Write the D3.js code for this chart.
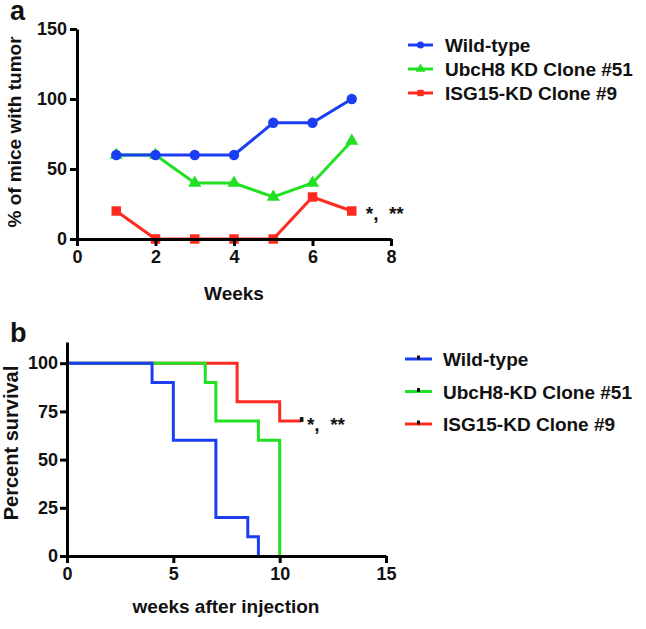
<!DOCTYPE html>
<html><head><meta charset="utf-8">
<script src="https://cdn.jsdelivr.net/npm/d3@7"></script>
<style>
body{margin:0;background:#fff;}
text{font-family:"Liberation Sans",Arial,sans-serif;font-weight:bold;fill:#111;}
</style></head>
<body><svg id="c" width="646" height="629"></svg>
<script>
// ---- Panel a data ----
const weeksA = [1,2,3,4,5,6,7];
const wildTypeA = [60,60,60,60,83,83,100];
const ubch8A = [60,60,40,40,30,40,70];
const isg15A = [20,0,0,0,0,30,20];
const seriesNamesA = ["Wild-type","UbcH8 KD Clone #51","ISG15-KD Clone #9"];
const xTicksA = [0,2,4,6,8];
const yTicksA = [0,50,100,150];
// ---- Panel b data (Kaplan–Meier steps) ----
const wtTimesB = [0,4,5,7,8.5,9];
const wtSurvB = [100,90,60,20,10,0];
const ubcTimesB = [0,6.5,7,9,10];
const ubcSurvB = [100,90,70,60,0];
const isgTimesB = [0,8,10,11];
const isgSurvB = [100,80,70,70];
const seriesNamesB = ["Wild-type","UbcH8-KD Clone #51","ISG15-KD Clone #9"];
const xTicksB = [0,5,10,15];
const yTicksB = [0,25,50,75,100];

const colors = ["#1c3ef2","#22e022","#ff2a1f"];
const svg = d3.select("#c");

function styleAxis(g){
  g.selectAll("path.domain").attr("stroke","#000").attr("stroke-width",3);
  g.selectAll(".tick line").attr("stroke","#000").attr("stroke-width",3);
  g.selectAll(".tick text").style("font-size","18px").style("font-family","Liberation Sans, Arial, sans-serif").style("font-weight","bold").attr("fill","#111");
}

// ================= Panel a =================
const xA = d3.scaleLinear().domain([0,8]).range([77,391]);
const yA = d3.scaleLinear().domain([0,150]).range([239,29]);

const lineA = d3.line().x((d,i)=>xA(weeksA[i])).y(d=>yA(d));
const dataA = [isg15A, ubch8A, wildTypeA];
const colA = [colors[2], colors[1], colors[0]];
const shapeA = [d3.symbolSquare, d3.symbolTriangle, d3.symbolCircle];
const sizeA = [90, 75, 85];

dataA.forEach((vals,k)=>{
  svg.append("path").attr("d",lineA(vals)).attr("fill","none")
    .attr("stroke",colA[k]).attr("stroke-width",3);
});
dataA.forEach((vals,k)=>{
  svg.append("g").selectAll("path").data(vals).join("path")
    .attr("d",d3.symbol().type(shapeA[k]).size(sizeA[k]))
    .attr("transform",(d,i)=>`translate(${xA(weeksA[i])},${yA(d)})`)
    .attr("fill",colA[k]);
});

const gxA = svg.append("g").attr("transform",`translate(0,${yA(0)})`)
  .call(d3.axisBottom(xA).tickValues(xTicksA).tickSize(7).tickPadding(4).tickSizeOuter(0));
styleAxis(gxA);
const gyA = svg.append("g").attr("transform",`translate(${xA(0)},0)`)
  .call(d3.axisLeft(yA).tickValues(yTicksA).tickSize(7).tickPadding(3).tickSizeOuter(0));
styleAxis(gyA);

svg.append("text").attr("x",10).attr("y",20).style("font-size","27px").text("a");
svg.append("text").attr("x",234).attr("y",300).attr("text-anchor","middle").style("font-size","19px").text("Weeks");
svg.append("text").attr("transform","translate(21,132) rotate(-90)").attr("text-anchor","middle")
  .style("font-size","19px").text("% of mice with tumor");
svg.append("text").attr("x",xA(weeksA[6])+14).attr("y",yA(isg15A[6])+9).style("font-size","19px")
  .attr("xml:space","preserve").text("*,  **");

// legend a
const legA = svg.append("g");
seriesNamesA.forEach((name,i)=>{
  const cy = 45 + i*24;
  legA.append("line").attr("x1",408).attr("x2",433).attr("y1",cy).attr("y2",cy)
    .attr("stroke",colors[i]).attr("stroke-width",3);
  const sh = [d3.symbolCircle,d3.symbolTriangle,d3.symbolSquare][i];
  legA.append("path").attr("d",d3.symbol().type(sh).size(40)).attr("transform",`translate(420.5,${cy})`).attr("fill",colors[i]);
  legA.append("text").attr("x",445).attr("y",cy+7).style("font-size","19px").text(name);
});

// ================= Panel b =================
const xB = d3.scaleLinear().domain([0,15]).range([67,386]);
const yB = d3.scaleLinear().domain([0,111]).range([556,342]);
const stepLine = d3.line().x(d=>xB(d[0])).y(d=>yB(d[1])).curve(d3.curveStepAfter);
const kmB = [
  d3.zip(isgTimesB, isgSurvB),
  d3.zip(ubcTimesB, ubcSurvB),
  d3.zip(wtTimesB, wtSurvB)
];
const colB = [colors[2], colors[1], colors[0]];
kmB.forEach((pts,k)=>{
  svg.append("path").attr("d",stepLine(pts)).attr("fill","none")
    .attr("stroke",colB[k]).attr("stroke-width",3);
});
// censor mark at end of ISG15 curve
const lastIsg = kmB[0][kmB[0].length-1];
svg.append("rect").attr("x",xB(lastIsg[0])-1).attr("y",yB(lastIsg[1])-4).attr("width",3.5).attr("height",5).attr("fill","#111");

const gxB = svg.append("g").attr("transform",`translate(0,${yB(0)})`)
  .call(d3.axisBottom(xB).tickValues(xTicksB).tickSize(7).tickPadding(4).tickSizeOuter(0));
styleAxis(gxB);
const gyB = svg.append("g").attr("transform",`translate(${xB(0)},0)`)
  .call(d3.axisLeft(yB).tickValues(yTicksB).tickSize(7).tickPadding(2).tickSizeOuter(0));
styleAxis(gyB);

svg.append("text").attr("x",10).attr("y",342).style("font-size","27px").text("b");
svg.append("text").attr("x",226).attr("y",613).attr("text-anchor","middle").style("font-size","19px").text("weeks after injection");
svg.append("text").attr("transform","translate(18,443) rotate(-90)").attr("text-anchor","middle")
  .style("font-size","20px").text("Percent survival");
svg.append("text").attr("x",xB(lastIsg[0])+6).attr("y",yB(lastIsg[1])+10).style("font-size","19px")
  .attr("xml:space","preserve").text("*,  **");

// legend b
const legB = svg.append("g");
seriesNamesB.forEach((name,i)=>{
  const cy = 359 + i*32.5;
  legB.append("line").attr("x1",405).attr("x2",432).attr("y1",cy).attr("y2",cy)
    .attr("stroke",colors[i]).attr("stroke-width",3);
  legB.append("rect").attr("x",417).attr("y",cy-3.5).attr("width",3).attr("height",4).attr("fill","#111");
  legB.append("text").attr("x",443).attr("y",cy+7).style("font-size","19px").text(name);
});
</script></body></html>
